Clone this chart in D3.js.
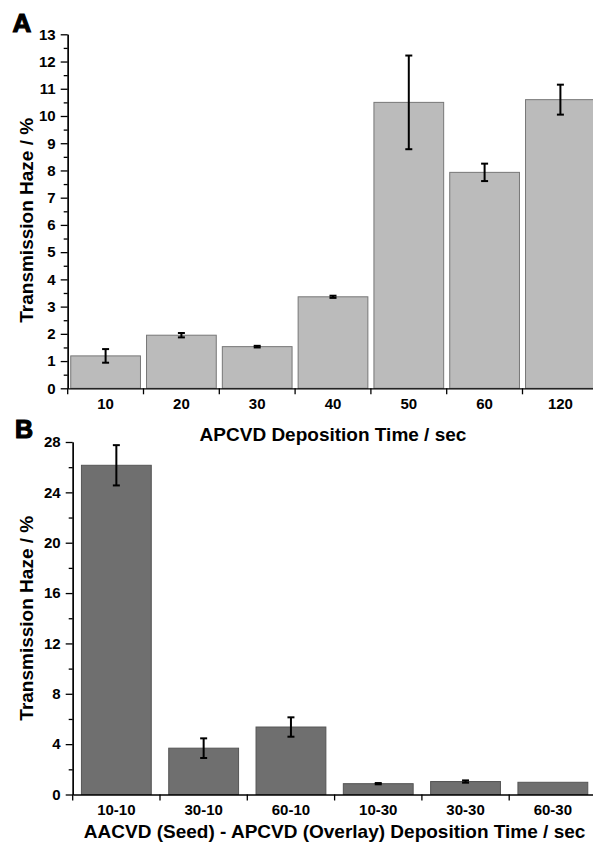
<!DOCTYPE html>
<html>
<head>
<meta charset="utf-8">
<script src="https://cdn.jsdelivr.net/npm/d3@7"></script>
<style>
  body { margin: 0; background: #fff; }
  svg { display: block; font-family: "Liberation Sans", Arial, sans-serif; }
  .tick text { font-weight: bold; font-size: 15px; fill: #000; }
  .axis path, .axis line { stroke: #000; stroke-width: 1.3px; }
  .title { font-weight: bold; font-size: 19px; fill: #000; }
  .panel { font-weight: bold; fill: #000; stroke: #000; stroke-width: 1.2px; }
</style>
</head>
<body>
<div id="chart"></div>
<script>
// panel A: APCVD deposition time
const timesA = ['10', '20', '30', '40', '50', '60', '120'];
const hazeA  = [1.19, 1.95, 1.53, 3.36, 10.5, 7.93, 10.6];
const errA   = [0.25, 0.08, 0.03, 0.04, 1.72, 0.32, 0.55];
const yTicksA = [0, 1, 2, 3, 4, 5, 6, 7, 8, 9, 10, 11, 12, 13];

// panel B: AACVD seed - APCVD overlay
const timesB = ['10-10', '30-10', '60-10', '10-30', '30-30', '60-30'];
const hazeB  = [26.15, 3.68, 5.36, 0.86, 1.03, 0.97];
const errB   = [1.6, 0.78, 0.77, 0.05, 0.09, 0];
const yTicksB = [0, 4, 8, 12, 16, 20, 24, 28];

const W = 593, H = 843;
const svg = d3.select('#chart').append('svg')
  .attr('width', W).attr('height', H);

function panel(opts){
  const g = svg.append('g');
  const cells = d3.scaleBand().domain(opts.cats).range([opts.x0, opts.x1]);
  const x = d3.scaleBand().domain(opts.cats).range([opts.x0, opts.x1])
              .paddingInner(opts.pad).paddingOuter(opts.pad / 2);
  const y = d3.scaleLinear().domain([0, opts.ymax]).range([opts.y0, opts.y1]);

  const rows = opts.cats.map((c, i) => ({cat: c, v: opts.vals[i], e: opts.errs[i]}));

  // bars
  g.append('g').selectAll('rect')
    .data(rows).join('rect')
    .attr('x', d => x(d.cat))
    .attr('width', x.bandwidth())
    .attr('y', d => y(d.v))
    .attr('height', d => y(0) - y(d.v))
    .attr('fill', opts.fill)
    .attr('stroke', opts.stroke)
    .attr('stroke-width', 1);

  // error bars
  const eb = g.append('g').attr('stroke', '#000').attr('stroke-width', 2)
    .selectAll('g').data(rows.filter(d => d.e > 0)).join('g')
    .attr('transform', d => `translate(${x(d.cat) + x.bandwidth() / 2},0)`);
  eb.append('line').attr('y1', d => y(d.v + d.e)).attr('y2', d => y(d.v - d.e));
  eb.append('line').attr('x1', -3.5).attr('x2', 3.5)
    .attr('y1', d => y(d.v + d.e)).attr('y2', d => y(d.v + d.e));
  eb.append('line').attr('x1', -3.5).attr('x2', 3.5)
    .attr('y1', d => y(d.v - d.e)).attr('y2', d => y(d.v - d.e));

  // y axis, major + minor
  const minor = d3.range(0, opts.ymax, opts.minorStep).filter(v => !opts.yTicks.includes(v));
  g.append('g').attr('class', 'axis')
    .attr('transform', `translate(${opts.x0},0)`)
    .call(d3.axisLeft(y).tickValues(minor).tickSize(4).tickSizeOuter(0).tickFormat(''));
  g.append('g').attr('class', 'axis')
    .attr('transform', `translate(${opts.x0},0)`)
    .call(d3.axisLeft(y).tickValues(opts.yTicks).tickSize(7).tickSizeOuter(0).tickPadding(5));

  // x axis: ticks at category boundaries, labels centred
  const xa = g.append('g').attr('class', 'axis')
    .attr('transform', `translate(0,${opts.y0})`)
    .call(d3.axisBottom(cells).tickSize(0).tickSizeOuter(0).tickPadding(10));
  xa.selectAll('.tick text').attr('dy', '0.71em');
  const bounds = opts.cats.map(c => cells(c)).concat([cells.range()[1]]);
  xa.selectAll('.bound').data(bounds).join('line')
    .attr('class', 'bound')
    .attr('x1', d => d).attr('x2', d => d)
    .attr('y1', 0).attr('y2', 6);

  // titles
  svg.append('text').attr('class', 'title')
    .attr('text-anchor', 'middle')
    .attr('transform', `translate(33,${(y(0) + y(opts.ymax)) / 2 + opts.ytOff}) rotate(-90)`)
    .text('Transmission Haze / %');
  svg.append('text').attr('class', 'title')
    .attr('text-anchor', 'middle')
    .attr('x', (opts.x0 + opts.x1) / 2)
    .attr('y', opts.xtY)
    .text(opts.xTitle);
  svg.append('text').attr('class', 'panel')
    .attr('x', opts.lx).attr('y', opts.ly)
    .style('font-size', opts.lsize + 'px')
    .text(opts.label);
}

panel({
  cats: timesA, vals: hazeA, errs: errA, yTicks: yTicksA, ymax: 13, minorStep: 0.5,
  x0: 67.7, x1: 598.3, y0: 388.3, y1: 34.3, pad: 0.08,
  fill: '#bbbbbb', stroke: '#777777',
  xTitle: 'APCVD Deposition Time / sec', xtY: 440.5, ytOff: 9,
  label: 'A', lx: 12.5, ly: 32.3, lsize: 26
});

panel({
  cats: timesB, vals: hazeB, errs: errB, yTicks: yTicksB, ymax: 28, minorStep: 2,
  x0: 72.7, x1: 596.5, y0: 794.5, y1: 442, pad: 0.2,
  fill: '#6f6f6f', stroke: '#555555',
  xTitle: 'AACVD (Seed) - APCVD (Overlay) Deposition Time / sec', xtY: 838, ytOff: 0,
  label: 'B', lx: 15, ly: 437.7, lsize: 25
});
</script>
</body>
</html>
